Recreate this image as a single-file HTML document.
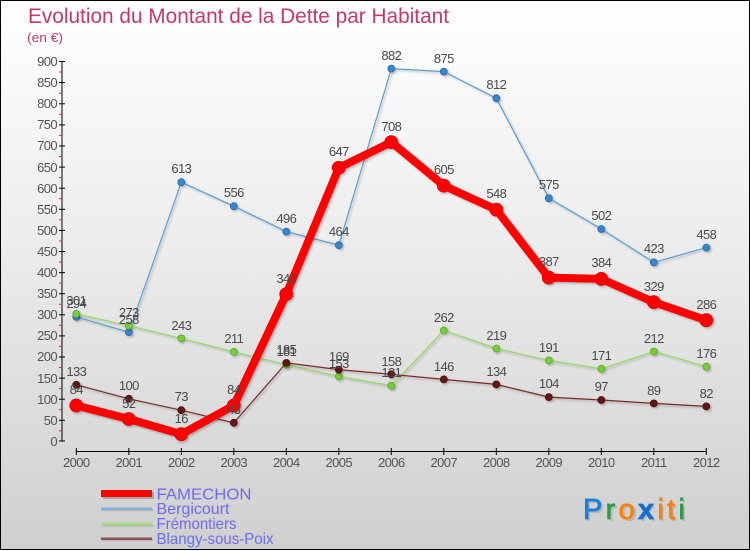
<!DOCTYPE html>
<html><head><meta charset="utf-8"><style>
html,body{margin:0;padding:0;}
body{width:750px;height:550px;overflow:hidden;}
#c{position:relative;width:750px;height:550px;box-sizing:border-box;border:1px solid #000;background:linear-gradient(to bottom,#ffffff 0%,#ececec 45%,#cfcfcf 100%);}
svg{position:absolute;left:0;top:0;}
text{font-family:"Liberation Sans",sans-serif;}
</style></head><body><div id="c">
<svg width="750" height="550" viewBox="0 0 750 550" xmlns="http://www.w3.org/2000/svg">
<defs>
<filter id="sh" x="-20%" y="-20%" width="140%" height="140%"><feDropShadow dx="1.5" dy="1.5" stdDeviation="1" flood-color="#000" flood-opacity="0.25"/></filter>
</defs>
<text x="27" y="22" font-size="21" fill="#c43a64" textLength="421" lengthAdjust="spacingAndGlyphs">Evolution du Montant de la Dette par Habitant</text>
<text x="26" y="41" font-size="12.5" fill="#c43a64" textLength="36" lengthAdjust="spacingAndGlyphs">(en €)</text>

<!-- Y axis -->
<line x1="61" y1="60" x2="61" y2="440" stroke="#000" stroke-width="1"/>
<g stroke="#000" stroke-width="1">
<line x1="58" y1="60.5" x2="64" y2="60.5"/><line x1="58" y1="81.6" x2="64" y2="81.6"/><line x1="58" y1="102.8" x2="64" y2="102.8"/><line x1="58" y1="123.9" x2="64" y2="123.9"/><line x1="58" y1="145" x2="64" y2="145"/><line x1="58" y1="166.1" x2="64" y2="166.1"/><line x1="58" y1="187.2" x2="64" y2="187.2"/><line x1="58" y1="208.3" x2="64" y2="208.3"/><line x1="58" y1="229.4" x2="64" y2="229.4"/><line x1="58" y1="250.5" x2="64" y2="250.5"/><line x1="58" y1="271.6" x2="64" y2="271.6"/><line x1="58" y1="292.7" x2="64" y2="292.7"/><line x1="58" y1="313.8" x2="64" y2="313.8"/><line x1="58" y1="334.9" x2="64" y2="334.9"/><line x1="58" y1="356" x2="64" y2="356"/><line x1="58" y1="377.1" x2="64" y2="377.1"/><line x1="58" y1="398.2" x2="64" y2="398.2"/><line x1="58" y1="419.3" x2="64" y2="419.3"/><line x1="58" y1="440" x2="64" y2="440"/>
</g>
<g stroke="#ff2020" stroke-width="1">
<line x1="58" y1="71" x2="61" y2="71"/><line x1="58" y1="92.2" x2="61" y2="92.2"/><line x1="58" y1="113.3" x2="61" y2="113.3"/><line x1="58" y1="134.4" x2="61" y2="134.4"/><line x1="58" y1="155.5" x2="61" y2="155.5"/><line x1="58" y1="176.6" x2="61" y2="176.6"/><line x1="58" y1="197.7" x2="61" y2="197.7"/><line x1="58" y1="218.8" x2="61" y2="218.8"/><line x1="58" y1="239.9" x2="61" y2="239.9"/><line x1="58" y1="261" x2="61" y2="261"/><line x1="58" y1="282.1" x2="61" y2="282.1"/><line x1="58" y1="303.2" x2="61" y2="303.2"/><line x1="58" y1="324.3" x2="61" y2="324.3"/><line x1="58" y1="345.4" x2="61" y2="345.4"/><line x1="58" y1="366.5" x2="61" y2="366.5"/><line x1="58" y1="387.6" x2="61" y2="387.6"/><line x1="58" y1="408.7" x2="61" y2="408.7"/><line x1="58" y1="429.8" x2="61" y2="429.8"/>
</g>
<g font-size="13" fill="#555" text-anchor="end" letter-spacing="-0.6">
<text x="56" y="65">900</text><text x="56" y="86">850</text><text x="56" y="107">800</text><text x="56" y="128">750</text><text x="56" y="149">700</text><text x="56" y="171">650</text><text x="56" y="192">600</text><text x="56" y="213">550</text><text x="56" y="234">500</text><text x="56" y="255">450</text><text x="56" y="276">400</text><text x="56" y="297">350</text><text x="56" y="318">300</text><text x="56" y="339">250</text><text x="56" y="360">200</text><text x="56" y="382">150</text><text x="56" y="403">100</text><text x="56" y="424">50</text><text x="56" y="445">0</text>
</g>

<!-- X axis -->
<line x1="75.3" y1="450.5" x2="705.3" y2="450.5" stroke="#000" stroke-width="1"/>
<g stroke="#000" stroke-width="1">
<line x1="75.3" y1="447" x2="75.3" y2="454"/><line x1="127.8" y1="447" x2="127.8" y2="454"/><line x1="180.3" y1="447" x2="180.3" y2="454"/><line x1="232.8" y1="447" x2="232.8" y2="454"/><line x1="285.3" y1="447" x2="285.3" y2="454"/><line x1="337.8" y1="447" x2="337.8" y2="454"/><line x1="390.3" y1="447" x2="390.3" y2="454"/><line x1="442.8" y1="447" x2="442.8" y2="454"/><line x1="495.3" y1="447" x2="495.3" y2="454"/><line x1="547.8" y1="447" x2="547.8" y2="454"/><line x1="600.3" y1="447" x2="600.3" y2="454"/><line x1="652.8" y1="447" x2="652.8" y2="454"/><line x1="705.3" y1="447" x2="705.3" y2="454"/>
</g>
<g font-size="13" fill="#555" text-anchor="middle" letter-spacing="-0.6">
<text x="75.3" y="466">2000</text><text x="127.8" y="466">2001</text><text x="180.3" y="466">2002</text><text x="232.8" y="466">2003</text><text x="285.3" y="466">2004</text><text x="337.8" y="466">2005</text><text x="390.3" y="466">2006</text><text x="442.8" y="466">2007</text><text x="495.3" y="466">2008</text><text x="547.8" y="466">2009</text><text x="600.3" y="466">2010</text><text x="652.8" y="466">2011</text><text x="705.3" y="466">2012</text>
</g>

<!-- Bergicourt -->
<g filter="url(#sh)">
<polyline fill="none" stroke="#5b9fd6" stroke-width="1.2" points="75.3,315.9 127.8,331.1 180.3,181.2 232.8,205.2 285.3,230.6 337.8,244.1 390.3,67.6 442.8,70.6 495.3,97.2 547.8,197.2 600.3,228 652.8,261.4 705.3,246.6"/>
<g fill="#3a86c8" stroke="#2a6aa8" stroke-width="0.8">
<circle cx="75.3" cy="315.9" r="3.5"/><circle cx="127.8" cy="331.1" r="3.5"/><circle cx="180.3" cy="181.2" r="3.5"/><circle cx="232.8" cy="205.2" r="3.5"/><circle cx="285.3" cy="230.6" r="3.5"/><circle cx="337.8" cy="244.1" r="3.5"/><circle cx="390.3" cy="67.6" r="3.5"/><circle cx="442.8" cy="70.6" r="3.5"/><circle cx="495.3" cy="97.2" r="3.5"/><circle cx="547.8" cy="197.2" r="3.5"/><circle cx="600.3" cy="228" r="3.5"/><circle cx="652.8" cy="261.4" r="3.5"/><circle cx="705.3" cy="246.6" r="3.5"/>
</g>
</g>
<!-- Fremontiers -->
<g filter="url(#sh)">
<polyline fill="none" stroke="#92da62" stroke-width="1.2" points="75.3,312.9 127.8,324.7 180.3,337.4 232.8,350.9 285.3,363.6 337.8,375.4 390.3,384.7 442.8,329.4 495.3,347.5 547.8,359.4 600.3,367.8 652.8,350.5 705.3,365.7"/>
<g fill="#78cc3a" stroke="#5aa82a" stroke-width="0.8">
<circle cx="75.3" cy="312.9" r="3.5"/><circle cx="127.8" cy="324.7" r="3.5"/><circle cx="180.3" cy="337.4" r="3.5"/><circle cx="232.8" cy="350.9" r="3.5"/><circle cx="285.3" cy="363.6" r="3.5"/><circle cx="337.8" cy="375.4" r="3.5"/><circle cx="390.3" cy="384.7" r="3.5"/><circle cx="442.8" cy="329.4" r="3.5"/><circle cx="495.3" cy="347.5" r="3.5"/><circle cx="547.8" cy="359.4" r="3.5"/><circle cx="600.3" cy="367.8" r="3.5"/><circle cx="652.8" cy="350.5" r="3.5"/><circle cx="705.3" cy="365.7" r="3.5"/>
</g>
</g>
<!-- Blangy -->
<g filter="url(#sh)">
<polyline fill="none" stroke="#7a2b2b" stroke-width="1.2" points="75.3,383.8 127.8,397.8 180.3,409.2 232.8,421.8 285.3,361.9 337.8,368.6 390.3,373.3 442.8,378.4 495.3,383.4 547.8,396.1 600.3,399 652.8,402.4 705.3,405.4"/>
<g fill="#641616" stroke="#4a0e0e" stroke-width="0.8">
<circle cx="75.3" cy="383.8" r="3.5"/><circle cx="127.8" cy="397.8" r="3.5"/><circle cx="180.3" cy="409.2" r="3.5"/><circle cx="232.8" cy="421.8" r="3.5"/><circle cx="285.3" cy="361.9" r="3.5"/><circle cx="337.8" cy="368.6" r="3.5"/><circle cx="390.3" cy="373.3" r="3.5"/><circle cx="442.8" cy="378.4" r="3.5"/><circle cx="495.3" cy="383.4" r="3.5"/><circle cx="547.8" cy="396.1" r="3.5"/><circle cx="600.3" cy="399" r="3.5"/><circle cx="652.8" cy="402.4" r="3.5"/><circle cx="705.3" cy="405.4" r="3.5"/>
</g>
</g>
<!-- FAMECHON -->
<g filter="url(#sh)">
<polyline fill="none" stroke="#ff0000" stroke-width="8" stroke-linejoin="round" points="75.3,404.5 127.8,418 180.3,433.2 232.8,404.5 285.3,293.1 337.8,166.8 390.3,141.1 442.8,184.6 495.3,208.6 547.8,276.6 600.3,277.9 652.8,301.1 705.3,319.2"/>
<g fill="#ff0000" stroke="#dd0000" stroke-width="0.8">
<circle cx="75.3" cy="404.5" r="6.5"/><circle cx="127.8" cy="418" r="6.5"/><circle cx="180.3" cy="433.2" r="6.5"/><circle cx="232.8" cy="404.5" r="6.5"/><circle cx="285.3" cy="293.1" r="6.5"/><circle cx="337.8" cy="166.8" r="6.5"/><circle cx="390.3" cy="141.1" r="6.5"/><circle cx="442.8" cy="184.6" r="6.5"/><circle cx="495.3" cy="208.6" r="6.5"/><circle cx="547.8" cy="276.6" r="6.5"/><circle cx="600.3" cy="277.9" r="6.5"/><circle cx="652.8" cy="301.1" r="6.5"/><circle cx="705.3" cy="319.2" r="6.5"/>
</g>
</g>

<!-- labels -->
<g font-size="13" fill="#4a4a4a" text-anchor="middle" letter-spacing="-0.6">
<text x="75.3" y="307">294</text><text x="127.8" y="323">258</text><text x="180.3" y="172">613</text><text x="232.8" y="196">556</text><text x="285.3" y="222">496</text><text x="337.8" y="235">464</text><text x="390.3" y="59">882</text><text x="442.8" y="62">875</text><text x="495.3" y="88">812</text><text x="547.8" y="188">575</text><text x="600.3" y="219">502</text><text x="652.8" y="252">423</text><text x="705.3" y="238">458</text>
<text x="75.3" y="304">301</text><text x="127.8" y="316">273</text><text x="180.3" y="329">243</text><text x="232.8" y="342">211</text><text x="285.3" y="355">181</text><text x="337.8" y="367">153</text><text x="390.3" y="376">131</text><text x="442.8" y="321">262</text><text x="495.3" y="339">219</text><text x="547.8" y="351">191</text><text x="600.3" y="359">171</text><text x="652.8" y="342">212</text><text x="705.3" y="357">176</text>
<text x="75.3" y="375">133</text><text x="127.8" y="389">100</text><text x="180.3" y="400">73</text><text x="232.8" y="413">43</text><text x="285.3" y="353">185</text><text x="337.8" y="360">169</text><text x="390.3" y="365">158</text><text x="442.8" y="370">146</text><text x="495.3" y="375">134</text><text x="547.8" y="387">104</text><text x="600.3" y="390">97</text><text x="652.8" y="394">89</text><text x="705.3" y="397">82</text>
<text x="75.3" y="393">84</text><text x="127.8" y="407">52</text><text x="180.3" y="422">16</text><text x="232.8" y="393">84</text><text x="285.3" y="282">348</text><text x="337.8" y="155">647</text><text x="390.3" y="130">708</text><text x="442.8" y="173">605</text><text x="495.3" y="197">548</text><text x="547.8" y="265">387</text><text x="600.3" y="266">384</text><text x="652.8" y="290">329</text><text x="705.3" y="308">286</text>
</g>

<!-- legend -->
<line x1="102" y1="494.5" x2="153" y2="494.5" stroke="#888" stroke-width="7" opacity="0.6"/>
<line x1="100" y1="492.5" x2="151" y2="492.5" stroke="#ff0000" stroke-width="7"/>
<line x1="101" y1="509" x2="152" y2="509" stroke="#999" stroke-width="2.5" opacity="0.5"/>
<line x1="100" y1="507.7" x2="151" y2="507.7" stroke="#7fb2d8" stroke-width="2.5"/>
<line x1="101" y1="524.3" x2="152" y2="524.3" stroke="#999" stroke-width="2.5" opacity="0.5"/>
<line x1="100" y1="523" x2="151" y2="523" stroke="#a6dc80" stroke-width="2.5"/>
<line x1="101" y1="539" x2="152" y2="539" stroke="#999" stroke-width="2.5" opacity="0.5"/>
<line x1="100" y1="537.7" x2="151" y2="537.7" stroke="#8e5252" stroke-width="2.5"/>
<g font-size="16" fill="#6c6cf0">
<text x="155.5" y="498.5" textLength="95" lengthAdjust="spacingAndGlyphs">FAMECHON</text>
<text x="155.5" y="513" textLength="73" lengthAdjust="spacingAndGlyphs">Bergicourt</text>
<text x="155.5" y="528" textLength="80" lengthAdjust="spacingAndGlyphs">Frémontiers</text>
<text x="155.5" y="543" textLength="117" lengthAdjust="spacingAndGlyphs">Blangy-sous-Poix</text>
</g>

<!-- logo -->
<g font-size="29" font-family="'Liberation Sans',sans-serif" stroke-width="0.8">
<text x="584" y="520" fill="#999" opacity="0.45" textLength="102" lengthAdjust="spacing">Proxiti</text>
<text x="582" y="518" textLength="102" lengthAdjust="spacing"><tspan fill="#1a7fd8" stroke="#1a7fd8">P</tspan><tspan fill="#2e9a4a" stroke="#2e9a4a">r</tspan><tspan fill="#f5820f" stroke="#f5820f">o</tspan><tspan fill="#1a6fcc" stroke="#1a6fcc" font-weight="bold">x</tspan><tspan fill="#f5820f" stroke="#f5820f">i</tspan><tspan fill="#f5820f" stroke="#f5820f">t</tspan><tspan fill="#2e9a4a" stroke="#2e9a4a">i</tspan></text>
</g>
</svg>
</div></body></html>
